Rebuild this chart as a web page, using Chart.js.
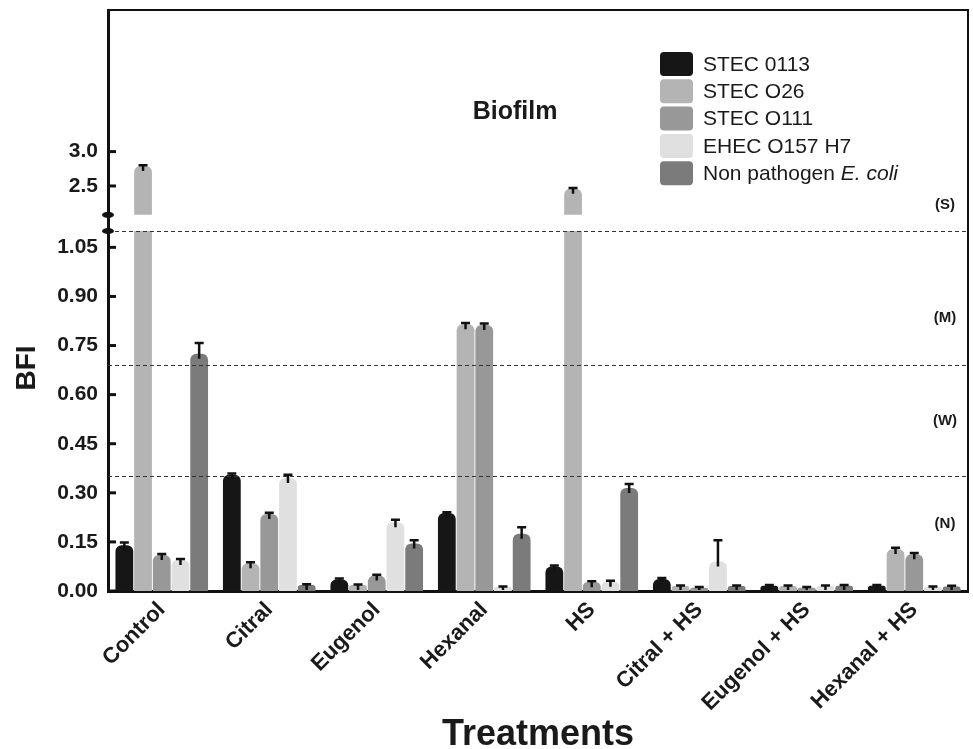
<!DOCTYPE html>
<html>
<head>
<meta charset="utf-8">
<script src="https://cdn.jsdelivr.net/npm/chart.js@4.4.0/dist/chart.umd.min.js"></script>
<style>
  body { margin: 0; background: #fff; }
  #wrap { width: 973px; height: 749px; position: relative; }
</style>
</head>
<body>
<div id="wrap"><canvas id="bar-chart"></canvas></div>
<script>
// Data
const treatments = ["Control", "Citral", "Eugenol", "Hexanal", "HS", "Citral + HS", "Eugenol + HS", "Hexanal + HS"];
const strains = ["STEC 0113", "STEC O26", "STEC O111", "EHEC O157 H7", "Non pathogen E. coli"];

const stec0113 = [0.14, 0.355, 0.035, 0.238, 0.075, 0.037, 0.016, 0.016];
const stecO26 = [2.79, 0.085, 0.018, 0.815, 2.46, 0.015, 0.015, 0.128];
const stecO111 = [0.11, 0.235, 0.047, 0.813, 0.027, 0.01, 0.01, 0.112];
const ehecO157 = [0.095, 0.345, 0.21, 0.012, 0.028, 0.09, 0.015, 0.012];
const nonPathogen = [0.725, 0.018, 0.145, 0.175, 0.315, 0.015, 0.016, 0.014];

const err0113 = [0.008, 0.004, 0.003, 0.003, 0.003, 0.003, 0.002, 0.002];
const errO26 = [0.012, 0.003, 0.002, 0.004, 0.012, 0.002, 0.002, 0.004];
const errO111 = [0.003, 0.004, 0.003, 0.004, 0.003, 0.002, 0.002, 0.004];
const errO157 = [0.003, 0.01, 0.008, 0.002, 0.003, 0.065, 0.002, 0.002];
const errNonPathogen = [0.033, 0.003, 0.01, 0.02, 0.012, 0.002, 0.002, 0.002];

const lowerTicks = [0, 0.15, 0.3, 0.45, 0.6, 0.75, 0.9, 1.05];
const upperTicks = [2.5, 3.0];
const thresholds = [0.35, 0.69, 1.1];
const classLabels = ["(S)", "(M)", "(W)", "(N)"];

const seriesValues = [stec0113, stecO26, stecO111, ehecO157, nonPathogen];
const seriesErrors = [err0113, errO26, errO111, errO157, errNonPathogen];
const strainColors = ["#161616", "#b4b4b4", "#989898", "#e0e0e0", "#7b7b7b"];

// axis break
const LOW_MAX = 1.1;
const HIGH_START = 2.08;

const FONT = "'Liberation Sans', Arial, sans-serif";

function makeDatasets() {
  const sets = [];
  // lower part of the broken axis
  seriesValues.forEach((vals, i) => {
    sets.push({
      label: strains[i],
      data: vals.map((v) => Math.min(v, LOW_MAX)),
      yAxisID: "y",
      stack: "s" + i,
      backgroundColor: strainColors[i],
      borderRadius: (c) => {
        const r = seriesValues[i][c.dataIndex] > LOW_MAX ? 0 : 6;
        return { topLeft: r, topRight: r, bottomLeft: 0, bottomRight: 0 };
      },
    });
  });
  // upper part, only bars that go past the break
  seriesValues.forEach((vals, i) => {
    sets.push({
      label: strains[i] + " (top)",
      data: vals.map((v) => (v > LOW_MAX ? [HIGH_START, v] : null)),
      yAxisID: "yTop",
      stack: "s" + i,
      backgroundColor: strainColors[i],
      borderSkipped: false,
      borderRadius: { topLeft: 6, topRight: 6, bottomLeft: 0, bottomRight: 0 },
    });
  });
  return sets;
}

const decorPlugin = {
  id: "decor",
  afterDatasetsDraw(chart) {
    const ctx = chart.ctx;
    const area = chart.chartArea;
    const yLow = chart.scales.y;
    const yHigh = chart.scales.yTop;
    ctx.save();

    // error bars
    ctx.strokeStyle = "#111";
    ctx.lineWidth = 2.5;
    seriesValues.forEach((vals, i) => {
      const lowMeta = chart.getDatasetMeta(i);
      const highMeta = chart.getDatasetMeta(i + seriesValues.length);
      vals.forEach((v, j) => {
        const high = v > LOW_MAX;
        const scale = high ? yHigh : yLow;
        const bar = (high ? highMeta : lowMeta).data[j];
        const capY = scale.getPixelForValue(v + seriesErrors[i][j]);
        const baseY = Math.min(scale.getPixelForValue(v) + 5, yLow.bottom - 1);
        ctx.beginPath();
        ctx.moveTo(bar.x, baseY);
        ctx.lineTo(bar.x, capY);
        ctx.moveTo(bar.x - 4.5, capY);
        ctx.lineTo(bar.x + 4.5, capY);
        ctx.stroke();
      });
    });

    // class thresholds
    ctx.setLineDash([4, 3]);
    ctx.lineWidth = 1.2;
    ctx.strokeStyle = "#333";
    thresholds.forEach((t) => {
      const py = Math.round(yLow.getPixelForValue(t)) + 0.5;
      ctx.beginPath();
      ctx.moveTo(area.left, py);
      ctx.lineTo(area.right, py);
      ctx.stroke();
    });
    ctx.setLineDash([]);

    // inward ticks
    ctx.strokeStyle = "#111";
    ctx.lineWidth = 3;
    [yLow, yHigh].forEach((s) => {
      s.ticks.forEach((t) => {
        const py = s.getPixelForValue(t.value);
        ctx.beginPath();
        ctx.moveTo(area.left, py);
        ctx.lineTo(area.left + 8, py);
        ctx.stroke();
      });
    });

    // break marks
    ctx.fillStyle = "#111";
    [yLow.getPixelForValue(LOW_MAX), yHigh.getPixelForValue(HIGH_START)].forEach((py) => {
      ctx.beginPath();
      ctx.ellipse(area.left, py, 6, 3, 0, 0, Math.PI * 2);
      ctx.fill();
    });

    // frame top and right
    ctx.lineWidth = 2;
    ctx.beginPath();
    ctx.moveTo(area.left, area.top);
    ctx.lineTo(area.right, area.top);
    ctx.lineTo(area.right, area.bottom);
    ctx.stroke();

    // class labels
    ctx.fillStyle = "#1a1a1a";
    ctx.font = "bold 15px " + FONT;
    ctx.textAlign = "center";
    ctx.textBaseline = "middle";
    const classY = [yHigh.getPixelForValue(2.22), yLow.getPixelForValue(0.834), yLow.getPixelForValue(0.52), yLow.getPixelForValue(0.205)];
    classLabels.forEach((lab, k) => ctx.fillText(lab, area.right - 23, classY[k]));

    // chart title inside the plot
    ctx.font = "bold 25px " + FONT;
    ctx.fillText("Biofilm", 515, 112);

    // y axis title
    ctx.save();
    ctx.translate(27, 368);
    ctx.rotate(-Math.PI / 2);
    ctx.font = "bold 28px " + FONT;
    ctx.fillText("BFI", 0, 0);
    ctx.restore();

    // legend
    ctx.textAlign = "left";
    strains.forEach((name, i) => {
      const top = 52 + i * 27.3;
      ctx.fillStyle = strainColors[i];
      ctx.beginPath();
      ctx.roundRect(660, top, 33, 24, 4);
      ctx.fill();
      ctx.fillStyle = "#1a1a1a";
      ctx.font = "21px " + FONT;
      if (name.endsWith("E. coli")) {
        const head = name.replace("E. coli", "");
        ctx.fillText(head, 703, top + 13);
        const w = ctx.measureText(head).width;
        ctx.font = "italic 21px " + FONT;
        ctx.fillText("E. coli", 703 + w, top + 13);
      } else {
        ctx.fillText(name, 703, top + 13);
      }
    });
    ctx.restore();
  },
};

function fixY(s) {
  s.width = 108;
  s.paddingTop = 0;
  s.paddingBottom = 0;
}

let ctx = document.getElementById("bar-chart").getContext("2d");
let barChart = new Chart(ctx, {
  type: "bar",
  data: { labels: treatments, datasets: makeDatasets() },
  plugins: [decorPlugin],
  options: {
    responsive: true,
    maintainAspectRatio: false,
    animation: false,
    categoryPercentage: 0.87,
    barPercentage: 0.95,
    layout: { padding: { top: 10, right: 5, left: 0, bottom: 0 } },
    plugins: { legend: { display: false }, tooltip: { enabled: false } },
    scales: {
      x: {
        grid: { display: false, drawTicks: false },
        border: { display: true, width: 3, color: "#111" },
        ticks: { color: "#1a1a1a", font: { family: FONT, size: 22, weight: "bold" }, minRotation: 45, maxRotation: 45, padding: 6 },
        title: { display: true, text: "Treatments", color: "#1a1a1a", font: { family: FONT, size: 36, weight: "bold", lineHeight: 0.8 }, padding: { top: 0, bottom: 0 } },
        afterFit: (s) => { s.height = 158; },
      },
      y: {
        position: "left",
        stack: "v",
        stackWeight: 360,
        stacked: false,
        min: 0,
        max: LOW_MAX,
        grid: { display: false, drawTicks: false },
        border: { display: true, width: 3, color: "#111" },
        ticks: { color: "#1a1a1a", font: { family: FONT, size: 21, weight: "bold" }, padding: 10, callback: (v) => Number(v).toFixed(2) },
        afterBuildTicks: (s) => { s.ticks = lowerTicks.map((v) => ({ value: v })); },
        afterFit: fixY,
      },
      yTop: {
        position: "left",
        stack: "v",
        stackWeight: 221,
        stacked: false,
        min: 1.845,
        max: 5.06,
        grid: { display: false, drawTicks: false },
        border: { display: true, width: 3, color: "#111" },
        ticks: { color: "#1a1a1a", font: { family: FONT, size: 21, weight: "bold" }, padding: 10, callback: (v) => Number(v).toFixed(1) },
        afterBuildTicks: (s) => { s.ticks = upperTicks.map((v) => ({ value: v })); },
        afterFit: fixY,
      },
    },
  },
});
</script>
</body>
</html>
